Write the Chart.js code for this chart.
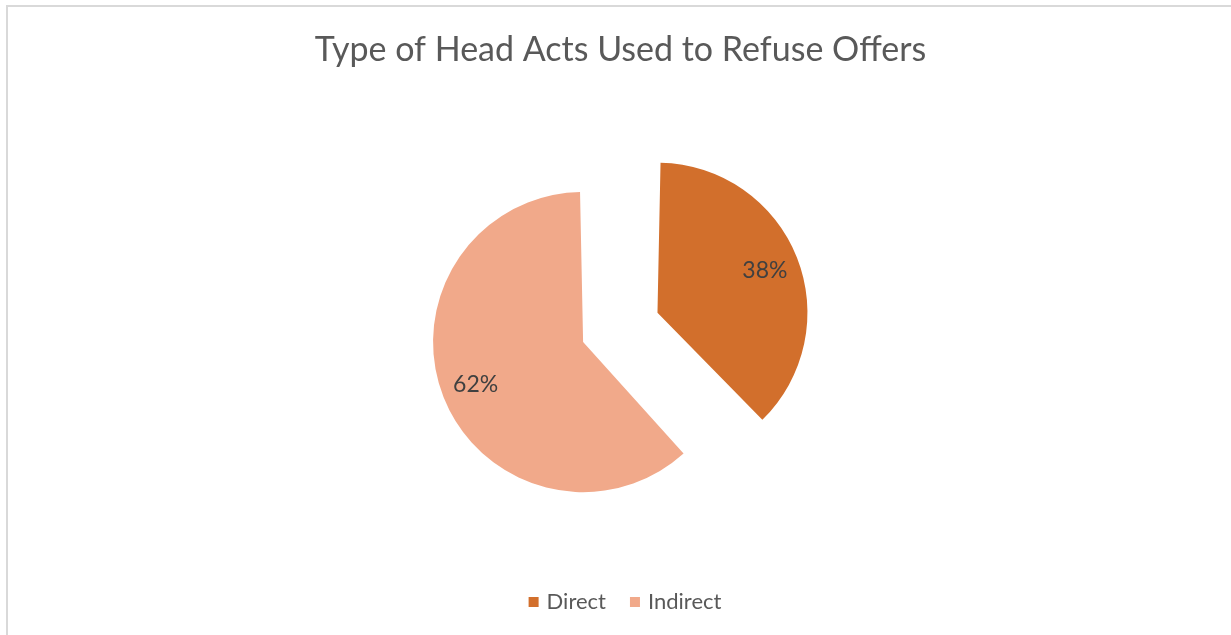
<!DOCTYPE html>
<html>
<head>
<meta charset="utf-8">
<script src="https://cdn.jsdelivr.net/npm/chart.js@4/dist/chart.umd.min.js"></script>
<style>
  html, body { margin: 0; padding: 0; background: #fff; overflow: hidden; }
  #wrap { position: relative; width: 1231px; height: 635px; }
  canvas { display: block; }
</style>
</head>
<body>
<div id="wrap"><canvas id="c" width="1231" height="635"></canvas></div>
<script>
// Chart content
const chartTitle = 'Type of Head Acts Used to Refuse Offers';
const categories = ['Direct', 'Indirect'];
const shares = [38, 62];          // percent of head acts
const sliceColors = ['#D26F2C', '#F1A98A'];
const explode = [243, 77];        // arc offset per slice (exploded pie)

const FONT = 'Lato, "Open Sans", sans-serif';

// White background and the light grey frame along the top and left edges
const framePlugin = {
  id: 'frame',
  beforeDraw(chart) {
    const ctx = chart.ctx;
    ctx.save();
    ctx.fillStyle = '#ffffff';
    ctx.fillRect(0, 0, chart.width, chart.height);
    ctx.fillStyle = '#d9d9d9';
    ctx.fillRect(6, 5, chart.width - 6, 2);
    ctx.fillRect(6, 5, 2, chart.height - 5);
    ctx.restore();
  }
};

// Title and bottom legend
const headingPlugin = {
  id: 'heading',
  afterDraw(chart) {
    const ctx = chart.ctx;
    ctx.save();
    ctx.fillStyle = '#595959';
    ctx.font = '34px ' + FONT;
    ctx.textAlign = 'center';
    ctx.textBaseline = 'alphabetic';
    ctx.fillText(chartTitle, 620.5, 61);

    // legend: square swatch + label, centred as a row
    ctx.font = '22px ' + FONT;
    const box = 10, gap = 8, between = 24;
    const widths = categories.map(t => ctx.measureText(t).width);
    const total = widths.reduce((s, w) => s + box + gap + w, 0) + between * (categories.length - 1);
    let x = 625 - total / 2;
    const baseY = 609;
    ctx.textAlign = 'left';
    categories.forEach((label, i) => {
      ctx.fillStyle = sliceColors[i];
      ctx.fillRect(x, baseY - 12, box, box);
      x += box + gap;
      ctx.fillStyle = '#595959';
      ctx.fillText(label, x, baseY);
      x += widths[i] + between;
    });
    ctx.restore();
  }
};

// Percentage labels placed inside each (exploded) slice
const sliceLabelPlugin = {
  id: 'sliceLabels',
  afterDatasetsDraw(chart) {
    const ctx = chart.ctx;
    const meta = chart.getDatasetMeta(0);
    const values = chart.data.datasets[0].data;
    ctx.save();
    ctx.fillStyle = '#404040';
    ctx.font = '23px ' + FONT;
    ctx.textAlign = 'center';
    ctx.textBaseline = 'middle';
    meta.data.forEach((arc, i) => {
      const p = arc.getProps(['x', 'y', 'startAngle', 'endAngle', 'outerRadius'], true);
      const mid = (p.startAngle + p.endAngle) / 2;
      const shift = (arc.options.offset || 0) / 4;
      const sweep = p.endAngle - p.startAngle;
      const drawnR = p.outerRadius + shift * (1 - Math.sin(Math.min(Math.PI, sweep)));
      const d = shift + drawnR * 0.77;
      ctx.fillText(values[i] + '%', p.x + Math.cos(mid) * d, p.y + Math.sin(mid) * d);
    });
    ctx.restore();
  }
};

new Chart(document.getElementById('c'), {
  type: 'pie',
  data: {
    labels: categories,
    datasets: [{
      data: shares,
      backgroundColor: sliceColors,
      borderWidth: 0,
      offset: explode,
      radius: 130.8
    }]
  },
  options: {
    responsive: false,
    animation: false,
    devicePixelRatio: 1,
    layout: { padding: { left: 0, right: 29, top: 70, bottom: 35 } },
    plugins: {
      legend: { display: false },
      title: { display: false },
      tooltip: { enabled: false }
    }
  },
  plugins: [framePlugin, headingPlugin, sliceLabelPlugin]
});
</script>
</body>
</html>
